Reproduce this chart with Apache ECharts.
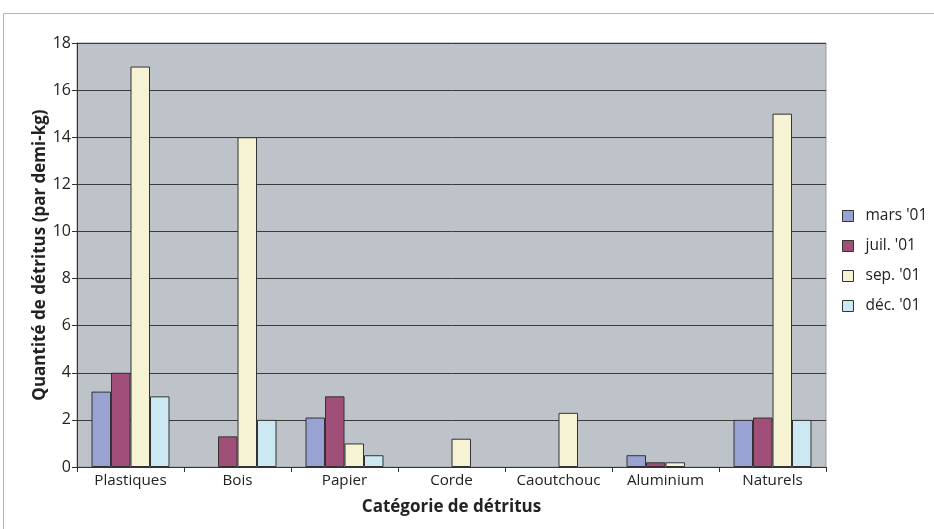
<!DOCTYPE html>
<html>
<head>
<meta charset="UTF-8">
<title></title>
<script src="https://cdn.jsdelivr.net/npm/echarts@6/dist/echarts.min.js"></script>
<style>
  html, body { margin: 0; padding: 0; background: #fff; }
  #chartArea { width: 934px; height: 529px; }
</style>
</head>
<body>
<div id="chartArea"></div>
<script type="text/javascript">
var categories = ['Plastiques', 'Bois', 'Papier', 'Corde', 'Caoutchouc', 'Aluminium', 'Naturels'];
var seriesNames = ["mars '01", "juil. '01", "sep. '01", "déc. '01"];
var mars = [3.2, null, 2.1, null, null, 0.5, 2.0];
var juil = [4.0, 1.3, 3.0, null, null, 0.2, 2.1];
var sep = [17, 14, 1.0, 1.2, 2.3, 0.2, 15];
var dec = [3.0, 2.0, 0.5, null, null, null, 2.0];
var colors = ['#99a3d3', '#a04f78', '#f5f3d3', '#cbe8f3'];

var myChart = echarts.init(document.getElementById('chartArea'));

function bar(name, data, color) {
	return {
		name: name,
		type: 'bar',
		data: data,
		barWidth: 19.5,
		barGap: '0%',
		itemStyle: {
			color: color,
			borderColor: '#333',
			borderWidth: 1
		}
	};
}

var option = {
	animation: false,
	textStyle: { fontFamily: '"Open Sans", sans-serif' },
	graphic: [{
		type: 'polyline',
		shape: { points: [[3.5, 529], [3.5, 13.5], [934, 13.5]] },
		style: { stroke: '#b5b5b5', lineWidth: 1, fill: null },
		silent: true
	}],
	grid: {
		left: 77, top: 43, width: 749, height: 424,
		show: true,
		backgroundColor: '#bec3ca',
		borderColor: '#9a9a9a',
		borderWidth: 1
	},
	legend: {
		orient: 'vertical',
		left: 837,
		top: 203,
		padding: 5,
		itemWidth: 11,
		itemHeight: 11,
		itemGap: 14,
		icon: 'rect',
		data: seriesNames,
		itemStyle: { borderColor: '#333', borderWidth: 1 },
		textStyle: { fontSize: 15.5, color: '#222', padding: [0, 0, 0, 7] }
	},
	xAxis: {
		type: 'category',
		data: categories,
		name: 'Catégorie de détritus',
		nameLocation: 'middle',
		nameGap: 32,
		nameMoveOverlap: false,
		nameTextStyle: { fontSize: 17, fontWeight: 'bold', color: '#222' },
		axisLine: { lineStyle: { color: '#333' } },
		axisTick: { show: true, length: 5, lineStyle: { color: '#333' } },
		axisLabel: { fontSize: 15.2, color: '#222', margin: 6, interval: 0 }
	},
	yAxis: {
		type: 'value',
		min: 0, max: 18, interval: 2,
		name: 'Quantité de détritus (par demi-kg)',
		nameLocation: 'middle',
		nameGap: 28,
		nameMoveOverlap: false,
		nameTextStyle: { fontSize: 17, fontWeight: 'bold', color: '#222' },
		axisLine: { show: true, lineStyle: { color: '#333' } },
		axisTick: { show: true, length: 5, lineStyle: { color: '#333' } },
		axisLabel: { fontSize: 16, color: '#222', margin: 6, fontFamily: '"Liberation Sans Narrow", "Open Sans", sans-serif' },
		splitLine: { lineStyle: { color: '#3a3a3a', width: 1 } }
	},
	series: [
		bar(seriesNames[0], mars, colors[0]),
		bar(seriesNames[1], juil, colors[1]),
		bar(seriesNames[2], sep, colors[2]),
		bar(seriesNames[3], dec, colors[3])
	]
};
myChart.setOption(option);
</script>
</body>
</html>
